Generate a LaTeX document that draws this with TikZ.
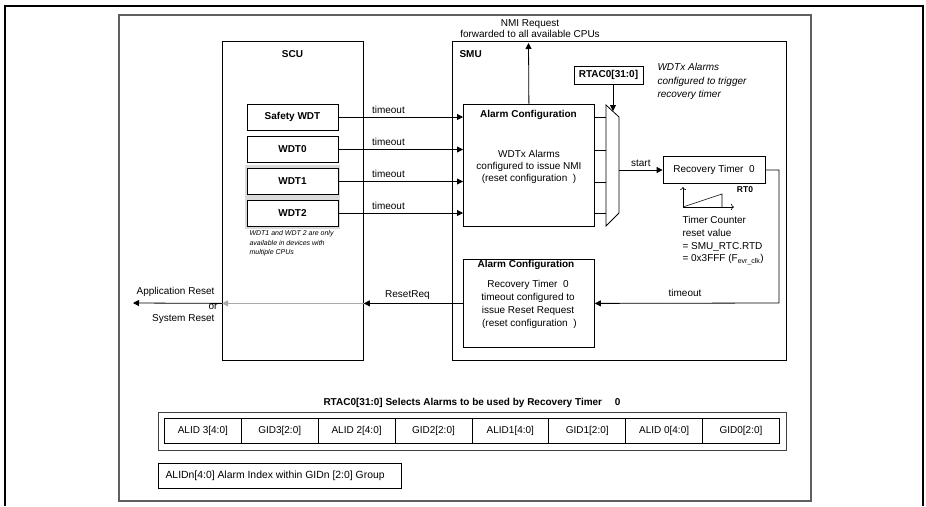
\documentclass[tikz,border=0pt]{standalone}
\usepackage{fontspec}
\setmainfont{Liberation Sans}
\usepackage{tikz}
\usetikzlibrary{arrows.meta}
\definecolor{framegray}{RGB}{95,95,95}
\definecolor{shadegray}{RGB}{218,218,218}
\definecolor{resetgray}{RGB}{170,170,170}
\tikzset{
  % boxes
  blkbox/.style   = {draw=black, line width=0.8pt, inner sep=0pt},
  wdtbox/.style   = {blkbox, fill=white, minimum width=91, minimum height=26, font=\bfseries},
  cellbox/.style  = {blkbox, minimum width=76.875, minimum height=25},
  % arrows
  sigarrow/.style = {-{Triangle[length=6pt,width=6pt]}, line width=0.8pt},
  opentip/.style  = {-{To[length=3pt,width=6pt]}, line width=0.6pt},
  % texts
  multiline/.style = {align=center, font=\fontsize{10}{11.7}\selectfont},
  notetext/.style  = {align=left, font=\fontsize{7}{9.5}\selectfont\itshape},
}
\begin{document}
\begin{tikzpicture}[x=1pt, y=-1pt]
  \useasboundingbox (0,0) rectangle (926,506);
  % frames
  \draw[line width=2pt] (5,506) -- (5,6) -- (923,6) -- (923,506);
  \draw[framegray, line width=1.2pt] (119,15) rectangle (811,501);
  % SCU and SMU
  \node[blkbox, anchor=north west, minimum width=141, minimum height=319] (scu) at (222,41) {};
  \node[font=\bfseries] (scutitle) at (292.5,54) {SCU};
  \node[blkbox, anchor=north west, minimum width=334, minimum height=319] (smu) at (452,41) {};
  \node[font=\bfseries, anchor=west] (smutitle) at (456,54) {SMU};
  % watchdogs
  \fill[shadegray] (245,165) rectangle (340,229);
  \node[wdtbox] (swdt) at (292.5,117) {Safety WDT};
  \node[wdtbox] (wdt0) at (292.5,149.5) {WDT0};
  \node[wdtbox] (wdt1) at (292.5,181.5) {WDT1};
  \node[wdtbox] (wdt2) at (292.5,213) {WDT2};
  \node[notetext, anchor=north west] (wdtnote) at (246,227)
    {WDT1 and WDT 2 are only\\available in devices with\\multiple CPUs};
  % alarm configuration for NMI
  \node[blkbox, anchor=north west, minimum width=131, minimum height=122] (acnmi) at (463,104) {};
  \node[font=\bfseries] (acnmititle) at (528.5,115) {Alarm Configuration};
  \node[multiline] (acnmitext) at (529,167)
    {WDTx Alarms\\configured to issue NMI\\(reset configuration\ \ )};
  \foreach \w in {swdt,wdt0,wdt1,wdt2}
    \draw[sigarrow] (\w.east) -- (\w.east -| acnmi.west)
      node[pos=0.24, anchor=south west] {timeout};
  % NMI request
  \node[multiline] (nmitext) at (530,28.5) {NMI Request\\forwarded to all available CPUs};
  \coordinate (nmitip) at (528.5,43);
  \draw[sigarrow] (acnmi.north) -- (nmitip);
  % RTAC0 and selector
  \node[blkbox, font=\bfseries, minimum width=69, minimum height=18] (rtac) at (608.5,75) {RTAC0[31:0]};
  \node[anchor=north west, align=left, font=\fontsize{10}{13.5}\selectfont\itshape] (rtacnote) at (654,60)
    {WDTx Alarms\\configured to trigger\\recovery timer};
  \draw[line width=0.8pt] (606,105) coordinate (muxnw) -- (619,117) coordinate (muxne)
    -- (619,213) coordinate (muxse) -- (606,226) coordinate (muxsw) -- cycle;
  \coordinate (muxin) at (613,111);
  \draw[sigarrow] (rtac.south -| muxin) -- (muxin);
  \foreach \yy in {117,150,182,213}
    \draw[line width=0.8pt] (acnmi.east |- 0,\yy) -- (muxnw |- 0,\yy);
  % recovery timer
  \node[blkbox, minimum width=102, minimum height=27] (rt) at (714,170) {Recovery Timer\ \ 0};
  \draw[sigarrow] (muxne |- rt.west) -- (rt.west) node[midway, above] {start};
  \node[font=\bfseries\fontsize{8.5}{10}\selectfont] (rttag) at (745,190) {RT0};
  \coordinate (ramp0) at (683,207);
  \draw[opentip] (ramp0) -- ++(0,-20);
  \draw[opentip] (ramp0) -- ++(51,0);
  \draw[line width=0.6pt] (ramp0) -- (722,194) -- (722,207);
  \node[anchor=north west, align=left, font=\fontsize{10}{12.7}\selectfont] (rtvalue) at (679,213)
    {Timer Counter\\reset value\\= SMU\_RTC.RTD\\= 0x3FFF (F\textsubscript{evr\_clk})};
  % alarm configuration for reset
  \node[blkbox, anchor=north west, minimum width=131, minimum height=88] (acrst) at (463,259) {};
  \node[font=\bfseries] (acrsttitle) at (526,264.5) {Alarm Configuration};
  \node[align=center, font=\fontsize{10}{13}\selectfont] (acrsttext) at (528,304)
    {Recovery Timer\ \ 0\\timeout configured to\\issue Reset Request\\\ (reset configuration\ \ )};
  \coordinate (rtbend) at (779,303);
  \draw[sigarrow] (rt.east) -| (rtbend) -- (acrst.east);
  \node (rttimeout) at (685,293) {timeout};
  % reset request
  \draw[sigarrow] (acrst.west) -- (scu.east |- acrst.west) node[pos=0.56, above] {ResetReq};
  \draw[sigarrow, resetgray] (scu.east |- acrst.west) -- (scu.west |- acrst.west);
  \coordinate (resetout) at (133,303);
  \draw[sigarrow] (scu.west |- acrst.west) -- (resetout);
  \node[anchor=east] (appreset) at (218,292) {Application Reset};
  \node (resetor) at (213,307) {or};
  \node[anchor=east] (sysreset) at (218,319.5) {System Reset};
  % RTAC0 register
  \node[font=\bfseries] (regtitle) at (472,403) {RTAC0[31:0] Selects Alarms to be used by Recovery Timer\quad\ 0};
  \node[blkbox, draw=black!75, line width=1pt, anchor=north west, minimum width=628, minimum height=38] (regframe) at (158,412) {};
  \foreach \lbl [count=\i from 0] in {ALID 3[4:0], GID3[2:0], ALID 2[4:0], GID2[2:0], ALID1[4:0], GID1[2:0], ALID 0[4:0], GID0[2:0]}
    \node[cellbox, anchor=west] (cell\i) at (164+\i*76.875,430.5) {\lbl};
  % legend
  \node[blkbox, anchor=north west, minimum width=243, minimum height=25] (legend) at (158,463) {};
  \node[anchor=west, xshift=4pt, font=\fontsize{10.4}{12}\selectfont] (legendtext) at (legend.west) {ALIDn[4:0] Alarm Index within GIDn [2:0] Group};
\end{tikzpicture}
\end{document}
